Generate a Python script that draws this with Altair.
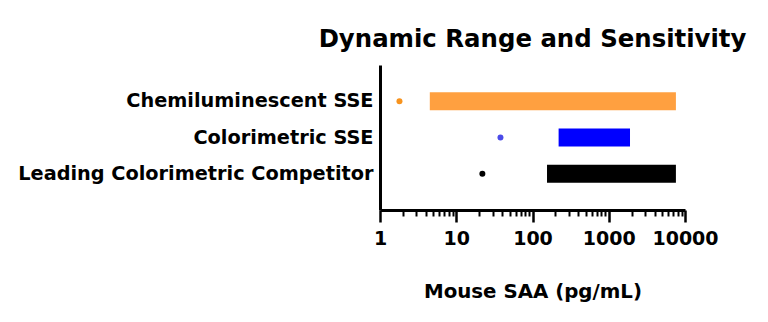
import altair as alt
import pandas as pd

categories = ["Chemiluminescent SSE", "Colorimetric SSE", "Leading Colorimetric Competitor"]
range_low = [4.5, 220, 155]
range_high = [7600, 1900, 7600]
sensitivity = [1.8, 38, 22]
bar_colors = ["#FFA040", "#0000FF", "#000000"]
dot_colors = ["#F7931E", "#4B4BE8", "#000000"]
major_ticks = [1, 10, 100, 1000, 10000]
minor_ticks = [m * d for d in [1, 10, 100, 1000] for m in range(2, 10)]

df = pd.DataFrame({
    "cat": categories,
    "low": range_low,
    "high": range_high,
    "sens": sensitivity,
})

FONT = "DejaVu Sans"

xscale = alt.Scale(type="log", domain=[1, 10000], nice=False)
yscale = alt.Scale(domain=categories, paddingInner=0.5, paddingOuter=0.75)
bar_color = alt.Color("cat:N", scale=alt.Scale(domain=categories, range=bar_colors), legend=None)
dot_color = alt.Color("cat:N", scale=alt.Scale(domain=categories, range=dot_colors), legend=None)

yaxis = alt.Axis(title=None, ticks=False, labelPadding=7, labelFont=FONT, labelFontSize=19.3,
                 labelFontWeight="bold", labelColor="black", domainColor="black", domainWidth=3,
                 labelLimit=500)

bars = alt.Chart(df).mark_bar().encode(
    x=alt.X("low:Q", scale=xscale,
            axis=alt.Axis(orient="bottom", values=major_ticks, format="d", title="Mouse SAA (pg/mL)",
                          tickSize=12, tickWidth=2.5, tickColor="black", domainColor="black",
                          domainWidth=3, grid=False, labelFont=FONT, labelFontSize=19,
                          labelFontWeight="bold", labelColor="black", labelPadding=7,
                          titleFont=FONT, titleFontSize=19.8, titleFontWeight="bold",
                          titleColor="black", titlePadding=33, labelFlush=False)),
    x2="high:Q",
    y=alt.Y("cat:N", scale=yscale, axis=yaxis, sort=categories),
    color=bar_color,
)

dots = alt.Chart(df).mark_circle(size=36, opacity=1).encode(
    x=alt.X("sens:Q", scale=xscale,
            axis=alt.Axis(orient="bottom", values=minor_ticks, labels=False, title=None, domain=False,
                          tickSize=6, tickWidth=2, tickColor="black", grid=False)),
    y=alt.Y("cat:N", scale=yscale, axis=yaxis, sort=categories),
    color=dot_color,
)

chart = alt.layer(bars, dots).resolve_axis(x="independent").resolve_scale(color="independent").properties(
    width=305, height=145,
    title=alt.TitleParams("Dynamic Range and Sensitivity", font=FONT, fontSize=24.4,
                          fontWeight="bold", color="black", anchor="middle", offset=13),
    autosize=alt.AutoSizeParams(type="none"),
    padding={"left": 380, "top": 65, "right": 83, "bottom": 112},
).configure_view(stroke=None)

chart.save("out.html", embed_options={"renderer": "svg", "actions": False})
